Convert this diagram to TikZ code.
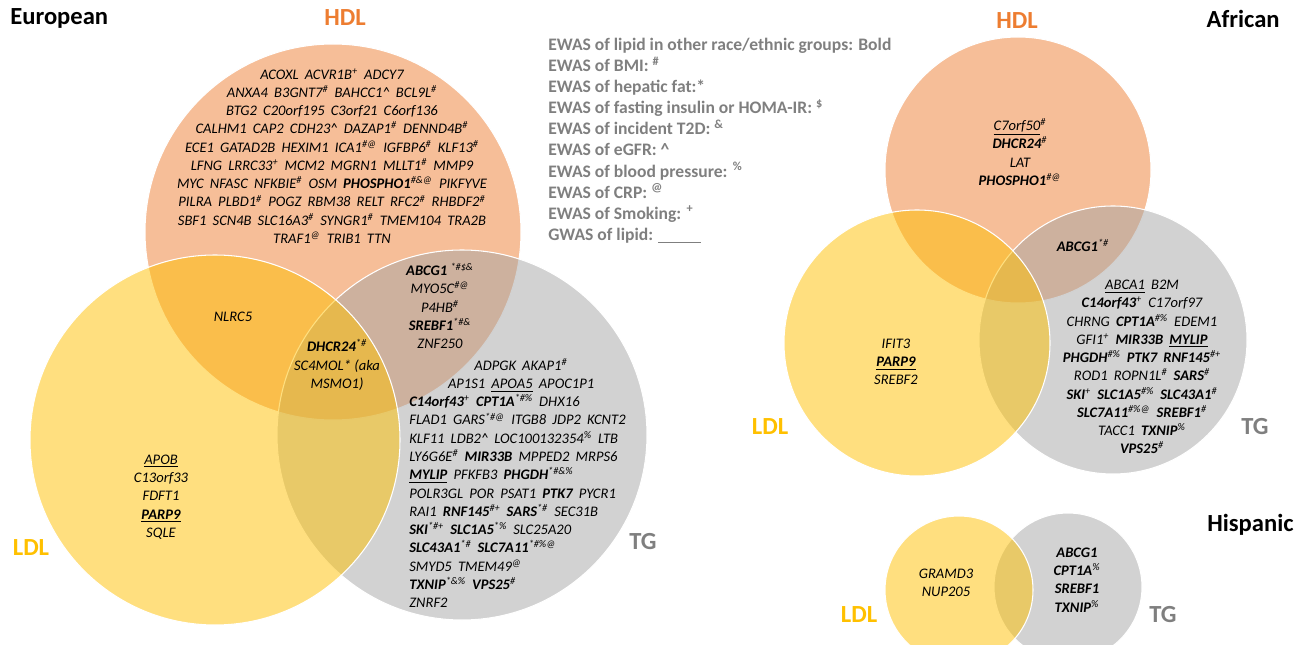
\documentclass[tikz,border=0pt]{standalone}
\usepackage{fontspec}
\setmainfont{Carlito}
\definecolor{hdlorange}{HTML}{ED7D31}
\definecolor{ldlyellow}{HTML}{FFC000}
\definecolor{tggray}{HTML}{A5A5A5}
\definecolor{textgray}{HTML}{7F7F7F}
\newcommand{\sy}[1]{\textsuperscript{#1}}
\newcommand{\bg}[1]{\textbf{#1}}
\newcommand{\sep}{\hspace{0.42em}}
\begin{document}
\begin{tikzpicture}[x=0.02cm, y=-0.02cm, every node/.style={inner sep=0pt, align=center}]
	\tikzstyle{hdl} = [fill=hdlorange, fill opacity=0.5, draw=white, line width=0.6pt]
	\tikzstyle{ldl} = [fill=ldlyellow, fill opacity=0.5, draw=white, line width=0.6pt]
	\tikzstyle{tg} = [fill=tggray, fill opacity=0.5, draw=white, line width=0.6pt]
	\tikzstyle{genes} = [font=\fontsize{8.3}{10.4}\selectfont\itshape, text=black]
	\tikzstyle{group} = [font=\fontsize{14}{16}\selectfont\bfseries]
	\tikzstyle{legend} = [font=\fontsize{10}{12}\selectfont\bfseries, text=textgray, align=left, anchor=west]
	\useasboundingbox (0,0) rectangle (1296,645);
	\fill[hdl] (333,232) circle (188);
	\fill[tg] (462,435) circle (185);
	\fill[ldl] (215,440) circle (185);
	\fill[hdl] (1018,170) circle (133);
	\fill[tg] (1113,340) circle (134);
	\fill[ldl] (917,343) circle (133);
	\fill[tg] (1068,587) circle (74);
	\fill[ldl] (959,590) circle (74);
	\node[group, anchor=west] (eur) at (10,18) {European};
	\node[group, text=hdlorange] (eurhdl) at (345,18) {HDL};
	\node[group, text=ldlyellow] (eurldl) at (31,548) {LDL};
	\node[group, text=textgray] (eurtg) at (643,542) {TG};
	\node[group, anchor=east] (afr) at (1280,19) {African};
	\node[group, text=hdlorange] (afrhdl) at (1017,21) {HDL};
	\node[group, text=ldlyellow] (afrldl) at (770,427) {LDL};
	\node[group, text=textgray] (afrtg) at (1255,427) {TG};
	\node[group, anchor=west] (his) at (1207,525) {Hispanic};
	\node[group, text=ldlyellow] (hisldl) at (859,615) {LDL};
	\node[group, text=textgray] (histg) at (1163,615) {TG};
	\node[legend] (key) at (548,141) {EWAS of lipid in other race/ethnic groups: Bold\\
		EWAS of BMI: \sy{\#}\\
		EWAS of hepatic fat:*\\
		EWAS of fasting insulin or HOMA-IR: \sy{\$}\\
		EWAS of incident T2D: \sy{\&}\\
		EWAS of eGFR: \textasciicircum\\
		EWAS of blood pressure: \sy{\%}\\
		EWAS of CRP: \sy{@}\\
		EWAS of Smoking: \sy{+}\\
		GWAS of lipid: \underline{\hspace{24pt}}};
	\node[genes] (eurhdlonly) at (332,156) {ACOXL\sep ACVR1B\sy{+}\sep ADCY7\\
		ANXA4\sep B3GNT7\sy{\#}\sep BAHCC1\textasciicircum\sep BCL9L\sy{\#}\\
		BTG2\sep C20orf195\sep C3orf21\sep C6orf136\\
		CALHM1\sep CAP2\sep CDH23\textasciicircum\sep DAZAP1\sy{\#}\sep DENND4B\sy{\#}\\
		ECE1\sep GATAD2B\sep HEXIM1\sep ICA1\sy{\#@}\sep IGFBP6\sy{\#}\sep KLF13\sy{\#}\\
		LFNG\sep LRRC33\sy{+}\sep MCM2\sep MGRN1\sep MLLT1\sy{\#}\sep MMP9\\
		MYC\sep NFASC\sep NFKBIE\sy{\#}\sep OSM\sep \bg{PHOSPHO1}\sy{\#\&@}\sep PIKFYVE\\
		PILRA\sep PLBD1\sy{\#}\sep POGZ\sep RBM38\sep RELT\sep RFC2\sy{\#}\sep RHBDF2\sy{\#}\\
		SBF1\sep SCN4B\sep SLC16A3\sy{\#}\sep SYNGR1\sy{\#}\sep TMEM104\sep TRA2B\\
		TRAF1\sy{@}\sep TRIB1\sep TTN};
	\node[genes] (eurhdltg) at (440,306) {\bg{ABCG1} \sy{*\#\$\&}\\
		MYO5C\sy{\#@}\\
		P4HB\sy{\#}\\
		\bg{SREBF1}\sy{*\#\&}\\
		ZNF250};
	\node[genes] (eurhdlldl) at (233,317) {NLRC5};
	\node[genes] (eurall) at (337,365) {\bg{DHCR24}\sy{*\#}\\
		SC4MOL* (aka\\
		MSMO1)};
	\node[genes, anchor=west, align=left] (eurtgonly) at (409,483) {\hspace*{37pt}ADPGK\sep AKAP1\sy{\#}\\
		\hspace*{22pt}AP1S1\sep \underline{APOA5}\sep APOC1P1\\
		\bg{C14orf43}\sy{+}\sep \bg{CPT1A}\sy{*\#\%}\sep DHX16\\
		FLAD1\sep GARS\sy{*\#@}\sep ITGB8\sep JDP2\sep KCNT2\\
		KLF11\sep LDB2\textasciicircum\sep LOC100132354\sy{\%}\sep LTB\\
		LY6G6E\sy{\#}\sep \bg{MIR33B}\sep MPPED2\sep MRPS6\\
		\underline{\bg{MYLIP}}\sep PFKFB3\sep \bg{PHGDH}\sy{*\#\&\%}\\
		POLR3GL\sep POR\sep PSAT1\sep \bg{PTK7}\sep PYCR1\\
		RAI1\sep \bg{RNF145}\sy{\#+}\sep \bg{SARS}\sy{*\#}\sep SEC31B\\
		\bg{SKI}\sy{*\#+}\sep \bg{SLC1A5}\sy{*\%}\sep SLC25A20\\
		\bg{SLC43A1}\sy{*\#}\sep \bg{SLC7A11}\sy{*\#\%@}\\
		SMYD5\sep TMEM49\sy{@}\\
		\bg{TXNIP}\sy{*\&\%}\sep \bg{VPS25}\sy{\#}\\
		ZNRF2};
	\node[genes] (eurldlonly) at (161,497) {\underline{APOB}\\
		C13orf33\\
		FDFT1\\
		\underline{\bg{PARP9}}\\
		SQLE};
	\node[genes] (afrhdlonly) at (1020,152) {\underline{C7orf50}\sy{\#}\\
		\bg{DHCR24}\sy{\#}\\
		LAT\\
		\bg{PHOSPHO1}\sy{\#@}};
	\node[genes] (afrhdltg) at (1083,245) {\bg{ABCG1}\sy{*\#}};
	\node[genes] (afrtgonly) at (1142,367) {\underline{ABCA1}\sep B2M\\
		\bg{C14orf43}\sy{+}\sep C17orf97\\
		CHRNG\sep \bg{CPT1A}\sy{\#\%}\sep EDEM1\\
		GFI1\sy{+}\sep \bg{MIR33B}\sep \underline{\bg{MYLIP}}\\
		\bg{PHGDH}\sy{\#\%}\sep \bg{PTK7}\sep \bg{RNF145}\sy{\#+}\\
		ROD1\sep ROPN1L\sy{\#}\sep \bg{SARS}\sy{\#}\\
		\bg{SKI}\sy{+}\sep \bg{SLC1A5}\sy{\#\%}\sep \bg{SLC43A1}\sy{\#}\\
		\bg{SLC7A11}\sy{\#\%@}\sep \bg{SREBF1}\sy{\#}\\
		TACC1\sep \bg{TXNIP}\sy{\%}\\
		\bg{VPS25}\sy{\#}};
	\node[genes] (afrldlonly) at (896,362) {IFIT3\\
		\underline{\bg{PARP9}}\\
		SREBF2};
	\node[genes] (hisldlonly) at (946,583) {GRAMD3\\
		NUP205};
	\node[genes] (histgonly) at (1077,580) {\bg{ABCG1}\\
		\bg{CPT1A}\sy{\%}\\
		\bg{SREBF1}\\
		\bg{TXNIP}\sy{\%}};
\end{tikzpicture}
\end{document}
